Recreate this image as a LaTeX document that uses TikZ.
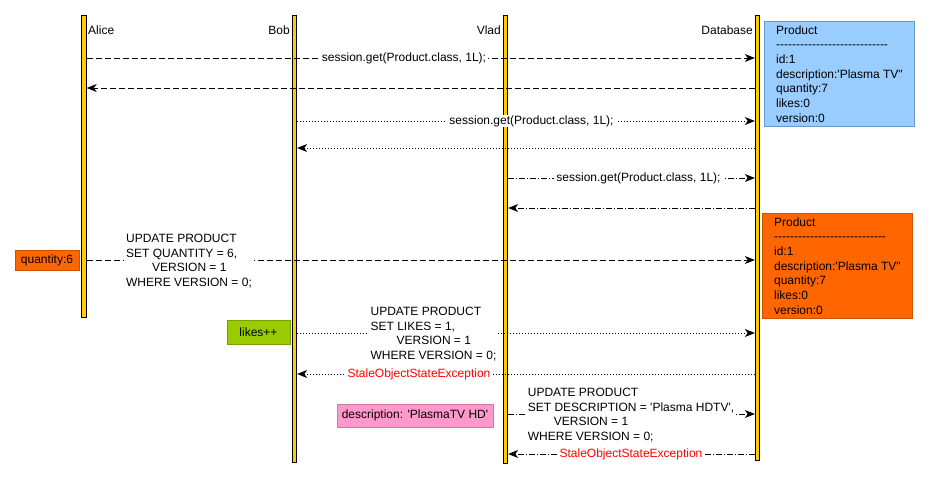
\documentclass[tikz,border=0pt]{standalone}
\usepackage{fontspec}
\setmainfont{Liberation Sans}[Ligatures=TeXOff]
\usetikzlibrary{arrows.meta,positioning}

\definecolor{lifeyellow}{HTML}{FFCC00}
\definecolor{prodblue}{HTML}{99CCFF}
\definecolor{prodblueline}{HTML}{6699CC}
\definecolor{prodorange}{HTML}{FF6600}
\definecolor{prodorangeline}{HTML}{CC5200}
\definecolor{notegreen}{HTML}{99CC00}
\definecolor{notegreenline}{HTML}{7A9F00}
\definecolor{notepink}{HTML}{FF99CC}
\definecolor{notepinkline}{HTML}{CC7AA3}
\definecolor{errred}{HTML}{FF0000}

\newcommand{\sepline}{----------------------------}

\tikzset{
  lifeline/.style={draw=black, fill=lifeyellow, line width=0.8pt,
    minimum width=4.6pt, inner sep=0pt, anchor=north},
  msg/.style={line width=0.7pt, -{Stealth[length=10pt,width=8pt,inset=3pt]}},
  dashmsg/.style={msg, dash pattern=on 6pt off 3pt},
  dotmsg/.style={msg, dash pattern=on 1pt off 2pt},
  dashdotmsg/.style={msg, dash pattern=on 6pt off 2pt on 1pt off 2pt},
  msglbl/.style={fill=white, inner xsep=2pt, inner ysep=0pt},
  prodbox/.style={anchor=north west, align=left, line width=0.8pt,
    minimum width=150pt, minimum height=105pt},
  notebox/.style={line width=0.8pt, inner sep=0pt}
}

\begin{document}
\begin{tikzpicture}[x=1pt, y=-1pt,
    every node/.style={font=\fontsize{12}{14.7}\selectfont}]
    \useasboundingbox (0,0) rectangle (930,479);

    % lifelines
    \node[lifeline, minimum height=302pt] (alice) at (84,15) {};
    \node[lifeline, minimum height=447pt] (bob) at (294.5,15) {};
    \node[lifeline, minimum height=448pt] (vlad) at (505.5,15) {};
    \node[lifeline, minimum height=445pt] (db) at (757.5,15) {};

    \node[anchor=west, inner sep=1pt] (alicename) at (87,30) {Alice};
    \node[anchor=east, inner sep=1pt] (bobname) at (291,30) {Bob};
    \node[anchor=east, inner sep=1pt] (vladname) at (502,30) {Vlad};
    \node[anchor=east, inner sep=1pt] (dbname) at (754,30) {Database};

    % database snapshots
    \node[prodbox, fill=prodblue, draw=prodblueline] (prodfirst) at (764,21)
        {Product\\\sepline\\id:1\\description:'Plasma TV"\\quantity:7\\likes:0\\version:0};
    \node[prodbox, fill=prodorange, draw=prodorangeline] (prodsecond) at (762,213)
        {Product\\\sepline\\id:1\\description:'Plasma TV"\\quantity:7\\likes:0\\version:0};

    % Alice loads the product
    \draw[dashmsg] (alice.east |- 0,58) -- (db.west |- 0,58);
    \node[msglbl] (aliceget) at (404,58) {session.get(Product.class, 1L);};
    \draw[dashmsg] (db.west |- 0,88) -- (alice.east |- 0,88);

    % Bob loads the product
    \draw[dotmsg] (bob.east |- 0,121) -- (db.west |- 0,121);
    \node[msglbl] (bobget) at (531.5,121) {session.get(Product.class, 1L);};
    \draw[dotmsg] (db.west |- 0,148) -- (bob.east |- 0,148);

    % Vlad loads the product
    \draw[dashdotmsg] (vlad.east |- 0,178) -- (db.west |- 0,178);
    \node[msglbl] (vladget) at (638.5,178) {session.get(Product.class, 1L);};
    \draw[dashdotmsg] (db.west |- 0,208) -- (vlad.east |- 0,208);

    % Alice updates
    \node[notebox, fill=prodorange, draw=prodorangeline, minimum width=64pt,
        minimum height=20pt] (qtynote) at (47,260) {quantity:6};
    \draw[dashmsg] (alice.east |- 0,260) -- (db.west |- 0,260);
    \node[msglbl, align=left] (aliceupd) at (189,261)
        {UPDATE PRODUCT\\SET QUANTITY = 6,\\\hspace*{26pt}VERSION = 1\\WHERE VERSION = 0;};

    % Bob updates
    \node[notebox, fill=notegreen, draw=notegreenline, minimum width=63pt,
        minimum height=24pt] (likesnote) at (258.5,332) {likes++};
    \draw[dotmsg] (bob.east |- 0,333) -- (db.west |- 0,333);
    \node[msglbl, align=left] (bobupd) at (433.5,334)
        {UPDATE PRODUCT\\SET LIKES = 1,\\\hspace*{26pt}VERSION = 1\\WHERE VERSION = 0;};
    \draw[dotmsg] (db.west |- 0,374) -- (bob.east |- 0,374);
    \node[msglbl, text=errred] (boberr) at (419,374) {StaleObjectStateException};

    % Vlad updates
    \node[notebox, fill=notepink, draw=notepinkline, minimum width=156pt,
        minimum height=23pt] (descnote) at (415,415.5) {description: 'PlasmaTV HD'};
    \draw[dashdotmsg] (vlad.east |- 0,414) -- (db.west |- 0,414);
    \node[msglbl, align=left] (vladupd) at (631,415)
        {UPDATE PRODUCT\\SET DESCRIPTION = 'Plasma HDTV',\\\hspace*{26pt}VERSION = 1\\WHERE VERSION = 0;};
    \draw[dashdotmsg] (db.west |- 0,454) -- (vlad.east |- 0,454);
    \node[msglbl, text=errred] (vladerr) at (631,454) {StaleObjectStateException};
\end{tikzpicture}
\end{document}
